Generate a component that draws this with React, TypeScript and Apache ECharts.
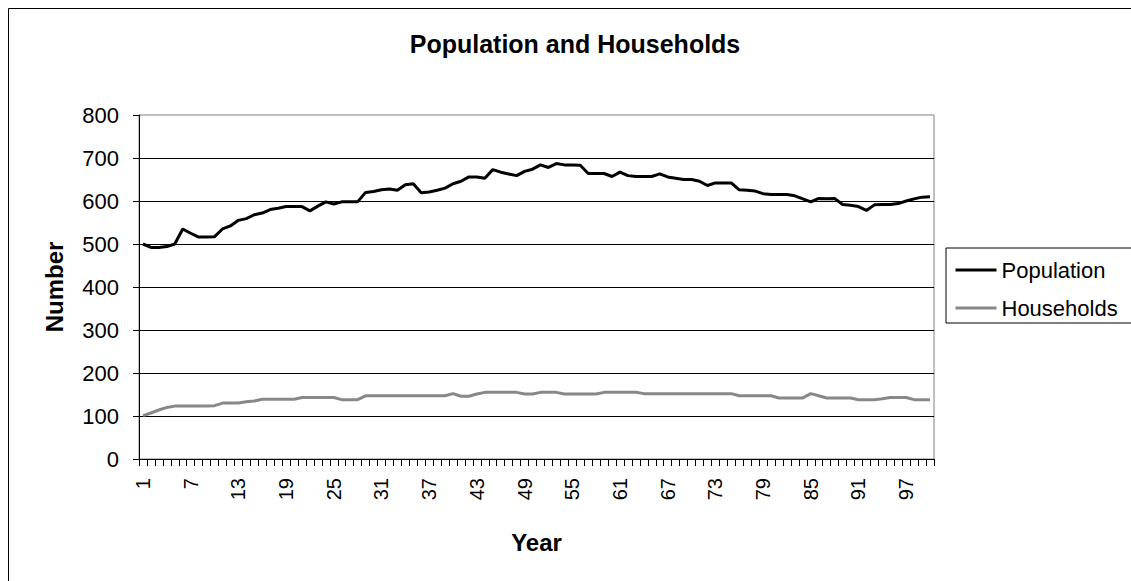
import React, { useEffect, useRef } from "react";
import * as echarts from "echarts";

const years = [
  "1","2","3","4","5","6","7","8","9","10",
  "11","12","13","14","15","16","17","18","19","20",
  "21","22","23","24","25","26","27","28","29","30",
  "31","32","33","34","35","36","37","38","39","40",
  "41","42","43","44","45","46","47","48","49","50",
  "51","52","53","54","55","56","57","58","59","60",
  "61","62","63","64","65","66","67","68","69","70",
  "71","72","73","74","75","76","77","78","79","80",
  "81","82","83","84","85","86","87","88","89","90",
  "91","92","93","94","95","96","97","98","99","100",
];

const population = [
  500, 492, 492, 494, 500, 535, 525, 516, 516, 517,
  535, 542, 555, 559, 568, 572, 580, 583, 587, 587,
  587, 577, 588, 598, 593, 598, 598, 598, 620, 622,
  626, 628, 625, 638, 640, 619, 621, 625, 630, 640,
  646, 656, 656, 653, 673, 667, 663, 659, 669, 674,
  684, 678, 687, 684, 684, 683, 664, 664, 664, 657,
  667, 659, 657, 657, 657, 663, 656, 653, 650, 650,
  646, 636, 642, 642, 642, 626, 625, 623, 617, 615,
  615, 615, 612, 605, 598, 606, 605, 606, 592, 590,
  587, 578, 591, 592, 592, 594, 600, 605, 609, 610,
];

const households = [
  101, 107, 114, 120, 123, 123, 123, 123, 123, 124,
  130, 130, 130, 133, 135, 139, 139, 139, 139, 139,
  143, 143, 143, 143, 143, 138, 138, 138, 147, 147,
  147, 147, 147, 147, 147, 147, 147, 147, 147, 152,
  146, 146, 151, 155, 155, 155, 155, 155, 151, 151,
  155, 155, 155, 151, 151, 151, 151, 151, 155, 155,
  155, 155, 155, 152, 152, 152, 152, 152, 152, 152,
  152, 152, 152, 152, 152, 147, 147, 147, 147, 147,
  142, 142, 142, 142, 152, 147, 142, 142, 142, 142,
  138, 138, 138, 140, 143, 143, 143, 138, 138, 138,
];

const seriesNames = ["Population", "Households"];
const seriesColors = ["#000000", "#888888"];
const titleText = "Population and Households";
const xAxisName = "Year";
const yAxisName = "Number";
const yMin = 0;
const yMax = 800;
const yStep = 100;

const FONT = '"Liberation Sans", Arial, sans-serif';

export default function App() {
  const ref = useRef<HTMLDivElement>(null);

  useEffect(() => {
    if (!ref.current) return;
    const chart = echarts.init(ref.current, null, { renderer: "svg" });
    chart.setOption({
      animation: false,
      backgroundColor: "#ffffff",
      textStyle: { fontFamily: FONT },
      graphic: [
        {
          type: "rect",
          silent: true,
          z: -10,
          shape: { x: 8.5, y: 8.5, width: 1300, height: 800 },
          style: { fill: "none", stroke: "#000000", lineWidth: 1 },
        },
        {
          type: "text",
          x: 575,
          y: 44,
          style: {
            text: titleText,
            font: `bold 25px ${FONT}`,
            fill: "#000000",
            textAlign: "center",
            textVerticalAlign: "middle",
          },
        },
      ],
      legend: {
        orient: "vertical",
        left: 946,
        top: 248,
        padding: [11, 30, 4, 8],
        itemWidth: 41,
        itemHeight: 22,
        itemGap: 16,
        itemTextGap: 6,
        itemStyle: { color: "rgba(0,0,0,0)", borderColor: "rgba(0,0,0,0)", borderWidth: 0 },
        lineStyle: { width: 3 },
        borderColor: "#000000",
        borderWidth: 1,
        backgroundColor: "#ffffff",
        data: seriesNames,
        textStyle: { fontSize: 22, color: "#000000", fontFamily: FONT },
      },
      grid: {
        left: 139,
        top: 115,
        width: 795,
        height: 344,
        show: true,
        borderColor: "#808080",
        borderWidth: 1,
        backgroundColor: "transparent",
      },
      xAxis: {
        type: "category",
        data: years,
        boundaryGap: true,
        name: xAxisName,
        nameLocation: "middle",
        nameGap: 71,
        nameTextStyle: { fontSize: 24, fontWeight: "bold", color: "#000000", fontFamily: FONT },
        axisLine: { show: true, lineStyle: { color: "#000000", width: 1 } },
        axisTick: { show: true, interval: 0, length: 7, lineStyle: { color: "#000000" } },
        axisLabel: { interval: 5, rotate: 90, fontSize: 20, color: "#000000", margin: 19, fontFamily: FONT },
        splitLine: { show: false },
      },
      yAxis: {
        type: "value",
        min: yMin,
        max: yMax,
        interval: yStep,
        name: yAxisName,
        nameLocation: "middle",
        nameGap: 73,
        nameRotate: 90,
        nameTextStyle: { fontSize: 24, fontWeight: "bold", color: "#000000", fontFamily: FONT },
        axisLine: { show: true, lineStyle: { color: "#000000", width: 1 } },
        axisTick: { show: true, length: 6, lineStyle: { color: "#000000" } },
        axisLabel: { fontSize: 22, color: "#000000", margin: 20, fontFamily: FONT },
        splitLine: {
          show: true,
          showMinLine: false,
          showMaxLine: false,
          lineStyle: { color: "#000000", width: 1 },
        },
      },
      series: [
        {
          name: seriesNames[0],
          type: "line",
          data: population,
          symbol: "none",
          lineStyle: { color: seriesColors[0], width: 3 },
          itemStyle: { color: seriesColors[0] },
        },
        {
          name: seriesNames[1],
          type: "line",
          data: households,
          symbol: "none",
          lineStyle: { color: seriesColors[1], width: 3 },
          itemStyle: { color: seriesColors[1] },
        },
      ],
    });
    return () => chart.dispose();
  }, []);

  return (
    <div
      ref={ref}
      style={{ position: "fixed", left: 0, top: 0, width: 1131, height: 581, background: "#ffffff" }}
    />
  );
}
